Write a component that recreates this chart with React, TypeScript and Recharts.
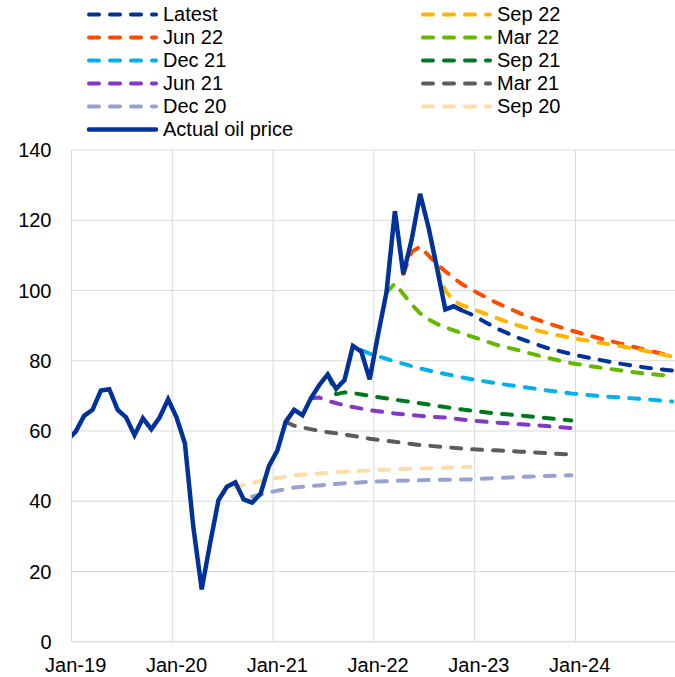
import { LineChart, Line, XAxis, YAxis, CartesianGrid, ReferenceLine } from 'recharts';

// month labels are 'Mmm-YY'; x value is months since Jan-19, plotted mid-month
const MONTHS = ['Jan', 'Feb', 'Mar', 'Apr', 'May', 'Jun', 'Jul', 'Aug', 'Sep', 'Oct', 'Nov', 'Dec'];
const parseMonth = (label: string) => {
  const [m, y] = label.split('-');
  return (Number(y) - 19) * 12 + MONTHS.indexOf(m) + 0.5;
};

const xTickLabels = ['Jan-19', 'Jan-20', 'Jan-21', 'Jan-22', 'Jan-23', 'Jan-24'];
const yTicks = [0, 20, 40, 60, 80, 100, 120, 140];

const actualStart = 'Dec-18';
const actualOil = [
  57.4,
  59.8, 64.3, 66.0, 71.5, 71.9, 66.0, 63.9, 58.8, 63.6, 60.5, 63.9, 69.0,
  63.9, 56.5, 32.7, 14.9, 28.0, 40.3, 44.1, 45.4, 40.5, 39.6, 42.1, 50.0,
  54.4, 62.6, 66.0, 64.5, 69.3, 73.1, 76.1, 72.0, 74.5, 84.2, 82.6, 74.7,
  87.5, 99.5, 122.6, 104.7, 114.5, 127.5, 118.0, 106.5, 94.6, 95.5, 94.3,
];

type Pt = [string, number];

const latest: Pt[] = [
  ['Nov-22', 94.3], ['Dec-22', 93.3], ['Jan-23', 92.0], ['Feb-23', 90.7], ['Mar-23', 89.3],
  ['Jun-23', 86.2], ['Sep-23', 83.7], ['Dec-23', 81.9], ['Mar-24', 80.4], ['Jun-24', 79.1],
  ['Sep-24', 78.0], ['Dec-24', 77.2],
];
const sep22: Pt[] = [
  ['Aug-22', 106.5], ['Sep-22', 100.0], ['Oct-22', 97.0], ['Nov-22', 95.8], ['Dec-22', 95.0],
  ['Mar-23', 92.2], ['Jun-23', 89.8], ['Sep-23', 88.0], ['Dec-23', 86.5], ['Mar-24', 85.3],
  ['Jun-24', 84.1], ['Sep-24', 82.7], ['Dec-24', 81.2],
];
const jun22: Pt[] = [
  ['Apr-22', 104.7], ['May-22', 111.0], ['Jun-22', 112.5], ['Jul-22', 110.0], ['Aug-22', 107.5],
  ['Sep-22', 105.5], ['Oct-22', 103.5], ['Nov-22', 101.8], ['Dec-22', 100.4], ['Mar-23', 96.6],
  ['Jun-23', 93.4], ['Sep-23', 90.8], ['Dec-23', 88.6], ['Mar-24', 86.6], ['Jun-24', 84.8],
  ['Sep-24', 83.0], ['Dec-24', 81.3],
];
const mar22: Pt[] = [
  ['Feb-22', 99.5], ['Mar-22', 102.0], ['Apr-22', 99.0], ['May-22', 96.0], ['Jun-22', 93.5],
  ['Jul-22', 91.8], ['Aug-22', 90.5], ['Sep-22', 89.5], ['Dec-22', 87.0], ['Mar-23', 84.6],
  ['Jun-23', 82.8], ['Sep-23', 80.9], ['Dec-23', 79.3], ['Mar-24', 78.2], ['Jun-24', 77.2],
  ['Sep-24', 76.3], ['Dec-24', 75.6],
];
const dec21: Pt[] = [
  ['Nov-21', 83.0], ['Dec-21', 82.0], ['Mar-22', 79.8], ['Jun-22', 77.8], ['Sep-22', 76.2],
  ['Dec-22', 74.8], ['Mar-23', 73.6], ['Jun-23', 72.6], ['Sep-23', 71.6], ['Dec-23', 70.7],
  ['Mar-24', 70.0], ['Jun-24', 69.5], ['Sep-24', 69.0], ['Dec-24', 68.4],
];
const sep21: Pt[] = [
  ['Jul-21', 76.1], ['Aug-21', 70.5], ['Sep-21', 71.0], ['Oct-21', 70.8], ['Dec-21', 70.0],
  ['Mar-22', 68.9], ['Jun-22', 67.9], ['Sep-22', 66.8], ['Dec-22', 65.8], ['Mar-23', 65.0],
  ['Jun-23', 64.4], ['Sep-23', 63.7], ['Dec-23', 63.0],
];
const jun21: Pt[] = [
  ['May-21', 69.3], ['Jun-21', 69.5], ['Jul-21', 68.6], ['Sep-21', 67.3], ['Dec-21', 65.9],
  ['Mar-22', 65.0], ['Jun-22', 64.3], ['Sep-22', 63.8], ['Dec-22', 63.0], ['Mar-23', 62.4],
  ['Jun-23', 61.9], ['Sep-23', 61.4], ['Dec-23', 60.8],
];
const mar21: Pt[] = [
  ['Feb-21', 62.6], ['Mar-21', 61.5], ['Jun-21', 60.0], ['Sep-21', 59.0], ['Dec-21', 57.8],
  ['Mar-22', 56.9], ['Jun-22', 56.0], ['Sep-22', 55.4], ['Dec-22', 54.8], ['Mar-23', 54.5],
  ['Jun-23', 54.1], ['Sep-23', 53.7], ['Dec-23', 53.3],
];
const dec20: Pt[] = [
  ['Oct-20', 41.3], ['Dec-20', 42.5], ['Mar-21', 43.9], ['Jun-21', 44.5], ['Sep-21', 45.1],
  ['Dec-21', 45.5], ['Mar-22', 45.8], ['Jun-22', 46.0], ['Sep-22', 46.1], ['Dec-22', 46.2],
  ['Mar-23', 46.6], ['Jun-23', 46.9], ['Sep-23', 47.2], ['Dec-23', 47.4],
];
const sep20: Pt[] = [
  ['Jun-20', 40.3], ['Jul-20', 43.4], ['Sep-20', 44.6], ['Dec-20', 46.3], ['Mar-21', 47.4],
  ['Jun-21', 47.9], ['Sep-21', 48.4], ['Dec-21', 48.8], ['Mar-22', 49.1], ['Jun-22', 49.3],
  ['Sep-22', 49.5], ['Dec-22', 49.8],
];

const FONT = 'Arial, "Liberation Sans", sans-serif';
const GRID = '#D9D9D9';
const DASH = '10 11';

// drawing order (back to front)
const projections = [
  { name: 'Sep 20', color: '#FDDDA7', points: sep20 },
  { name: 'Dec 20', color: '#98A1D0', points: dec20 },
  { name: 'Mar 21', color: '#5C5C5C', points: mar21 },
  { name: 'Jun 21', color: '#8139C6', points: jun21 },
  { name: 'Sep 21', color: '#00781E', points: sep21 },
  { name: 'Dec 21', color: '#00B1EA', points: dec21 },
  { name: 'Mar 22', color: '#65B800', points: mar22 },
  { name: 'Jun 22', color: '#FF4B00', points: jun22 },
  { name: 'Sep 22', color: '#FFB400', points: sep22 },
  { name: 'Latest', color: '#003299', points: latest },
];

const legendLeft = [
  { name: 'Latest', color: '#003299', dashed: true },
  { name: 'Jun 22', color: '#FF4B00', dashed: true },
  { name: 'Dec 21', color: '#00B1EA', dashed: true },
  { name: 'Jun 21', color: '#8139C6', dashed: true },
  { name: 'Dec 20', color: '#98A1D0', dashed: true },
  { name: 'Actual oil price', color: '#003299', dashed: false },
];
const legendRight = [
  { name: 'Sep 22', color: '#FFB400', dashed: true },
  { name: 'Mar 22', color: '#65B800', dashed: true },
  { name: 'Sep 21', color: '#00781E', dashed: true },
  { name: 'Mar 21', color: '#5C5C5C', dashed: true },
  { name: 'Sep 20', color: '#FDDDA7', dashed: true },
];

const toPoints = (pts: Pt[]) => pts.map(([d, v]) => ({ x: parseMonth(d), y: v }));
const startX = parseMonth(actualStart);
const actualData = actualOil.map((v, i) => ({ x: startX + i, y: v }));

const xTicks = xTickLabels.map(parseMonth);
const yearLines = xTickLabels.slice(1).map((l) => parseMonth(l) - 0.5);

function LegendColumn({ items, left }: { items: typeof legendLeft; left: number }) {
  return (
    <>
      {items.map((item, i) => (
        <div
          key={item.name}
          style={{
            position: 'absolute',
            left,
            top: 2.5 + i * 23,
            height: 23,
            display: 'flex',
            alignItems: 'center',
            whiteSpace: 'nowrap',
          }}
        >
          <svg width={78} height={23} style={{ display: 'block' }}>
            <line
              x1={4}
              x2={71}
              y1={11.5}
              y2={11.5}
              stroke={item.color}
              strokeWidth={item.dashed ? 4 : 4.5}
              strokeLinecap="round"
              strokeDasharray={item.dashed ? DASH : undefined}
            />
          </svg>
          <span style={{ fontSize: 20, lineHeight: '23px', color: '#000' }}>{item.name}</span>
        </div>
      ))}
    </>
  );
}

export default function App() {
  return (
    <div
      style={{
        position: 'absolute',
        left: 0,
        top: 0,
        width: 675,
        height: 677,
        overflow: 'hidden',
        background: '#fff',
        fontFamily: FONT,
      }}
    >
      <LegendColumn items={legendLeft} left={85} />
      <LegendColumn items={legendRight} left={419} />
      <div style={{ position: 'absolute', left: 0, top: 0 }}>
        <LineChart
          width={677}
          height={677}
          margin={{ top: 150, right: 0.7, bottom: 5.3, left: 11.5 }}
        >
          <CartesianGrid horizontal vertical={false} stroke={GRID} />
          {yearLines.map((x) => (
            <ReferenceLine key={x} x={x} stroke={GRID} strokeWidth={1} ifOverflow="hidden" />
          ))}
          <XAxis
            type="number"
            dataKey="x"
            domain={[0, 72]}
            allowDataOverflow
            ticks={xTicks}
            interval={0}
            tickFormatter={(v: number) => xTickLabels[xTicks.indexOf(v)] ?? ''}
            height={30}
            tickLine={false}
            tickSize={0}
            tickMargin={16}
            axisLine={{ stroke: GRID }}
            tick={{ fontSize: 20, fill: '#000', fontFamily: FONT }}
          />
          <YAxis
            type="number"
            domain={[0, 140]}
            ticks={yTicks}
            interval={0}
            width={60}
            tickLine={false}
            tickSize={0}
            tickMargin={20}
            axisLine={{ stroke: GRID }}
            tick={{ fontSize: 20, fill: '#000', fontFamily: FONT }}
          />
          {projections.map((p) => (
            <Line
              key={p.name}
              data={toPoints(p.points)}
              dataKey="y"
              type="linear"
              stroke={p.color}
              strokeWidth={4}
              strokeDasharray={DASH}
              strokeLinecap="round"
              strokeLinejoin="round"
              dot={false}
              activeDot={false}
              isAnimationActive={false}
            />
          ))}
          <Line
            data={actualData}
            dataKey="y"
            type="linear"
            stroke="#003299"
            strokeWidth={4.5}
            dot={false}
            activeDot={false}
            isAnimationActive={false}
          />
        </LineChart>
      </div>
    </div>
  );
}
